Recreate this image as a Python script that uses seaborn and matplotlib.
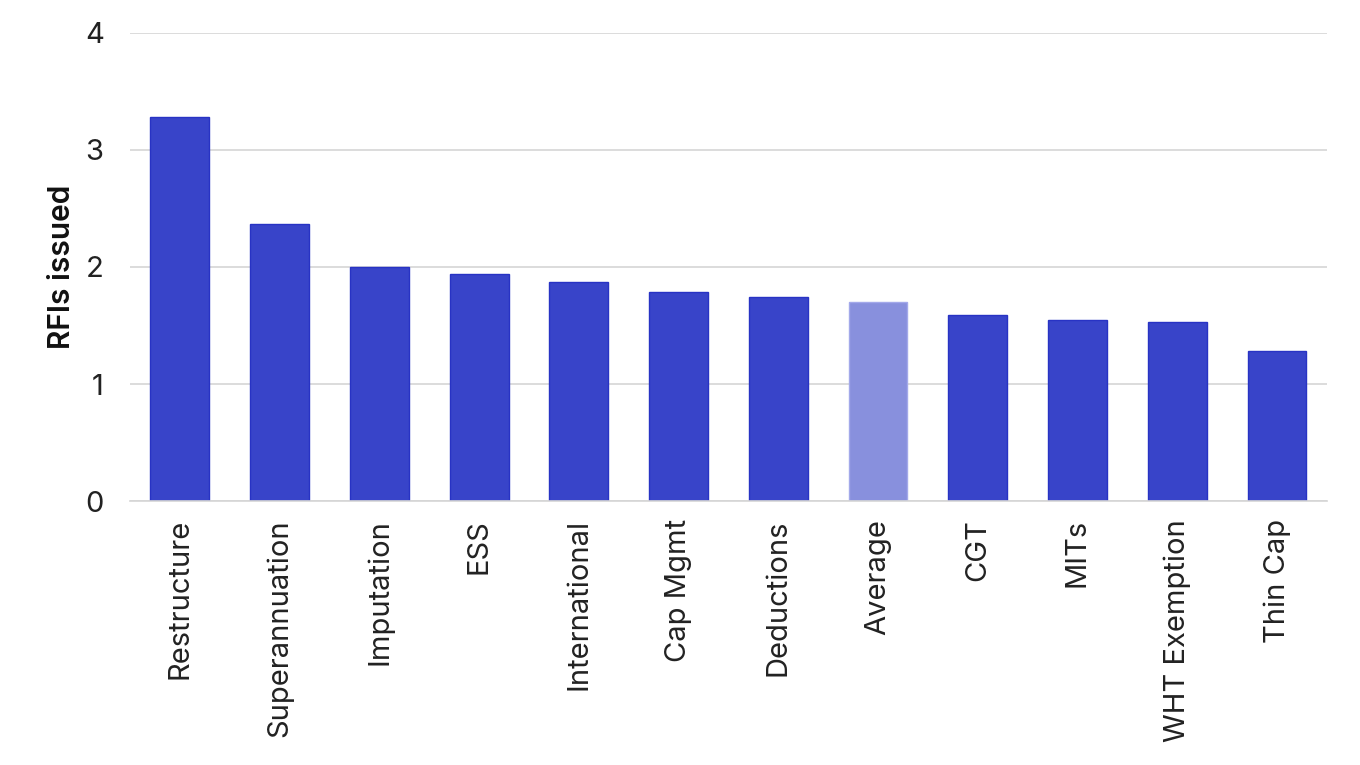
import matplotlib
matplotlib.use("Agg")
import matplotlib.pyplot as plt
import seaborn as sns
import pandas as pd
import numpy as np

# Chart data
categories = ["Restructure", "Superannuation", "Imputation", "ESS", "International",
              "Cap Mgmt", "Deductions", "Average", "CGT", "MITs", "WHT Exemption", "Thin Cap"]
rfis_issued = [3.28, 2.37, 2.00, 1.94, 1.87, 1.79, 1.74, 1.70, 1.59, 1.55, 1.53, 1.28]

df = pd.DataFrame({"Topic": categories, "RFIs": rfis_issued})

sns.set_theme(style="white")
plt.rcParams["font.family"] = ["Inter", "DejaVu Sans"]

main_color = "#3844C9"
avg_color = "#8890DD"
palette = [avg_color if c == "Average" else main_color for c in categories]

fig = plt.figure(figsize=(13.6, 7.65), dpi=100)
ax = fig.add_axes([0.0956, 0.345, 0.88, 0.612])

sns.barplot(data=df, x="Topic", y="RFIs", hue="Topic", palette=palette,
            legend=False, width=0.59, ax=ax, saturation=1)

for patch, c in zip(ax.patches, categories):
    if c == "Average":
        patch.set_edgecolor("#A3A9EA")
    else:
        patch.set_edgecolor("#2833C4")
    patch.set_linewidth(1)

ax.set_ylim(0, 4)
ax.set_xlim(-0.5, len(categories) - 0.5)
ax.set_yticks([0, 1, 2, 3, 4])
ax.yaxis.grid(True, color="#D5D5D5", linewidth=1.2)
ax.set_axisbelow(True)

for side in ["top", "right", "left"]:
    ax.spines[side].set_visible(False)
ax.spines["bottom"].set_color("#D5D5D5")
ax.spines["bottom"].set_linewidth(1.2)

# ticks between categories
ax.set_xticks(np.arange(-0.5, len(categories), 1), minor=True)
ax.tick_params(axis="x", which="minor", length=8, width=1.2, color="#D5D5D5", direction="out")
ax.tick_params(axis="x", which="major", length=0, pad=13)
ax.tick_params(axis="y", length=0, pad=19)
ax.set_xticks(range(len(categories)))
ax.set_xticklabels(categories, rotation=90, fontsize=21, color="#222222", fontweight="normal")
for lab in ax.get_yticklabels():
    lab.set_fontsize(21)
    lab.set_color("#222222")
    lab.set_fontweight("normal")

ax.set_xlabel("")
ax.set_ylabel("RFIs issued", fontsize=21.5, fontweight="semibold", color="#111111", labelpad=6)

plt.savefig("out.png", dpi=100)
